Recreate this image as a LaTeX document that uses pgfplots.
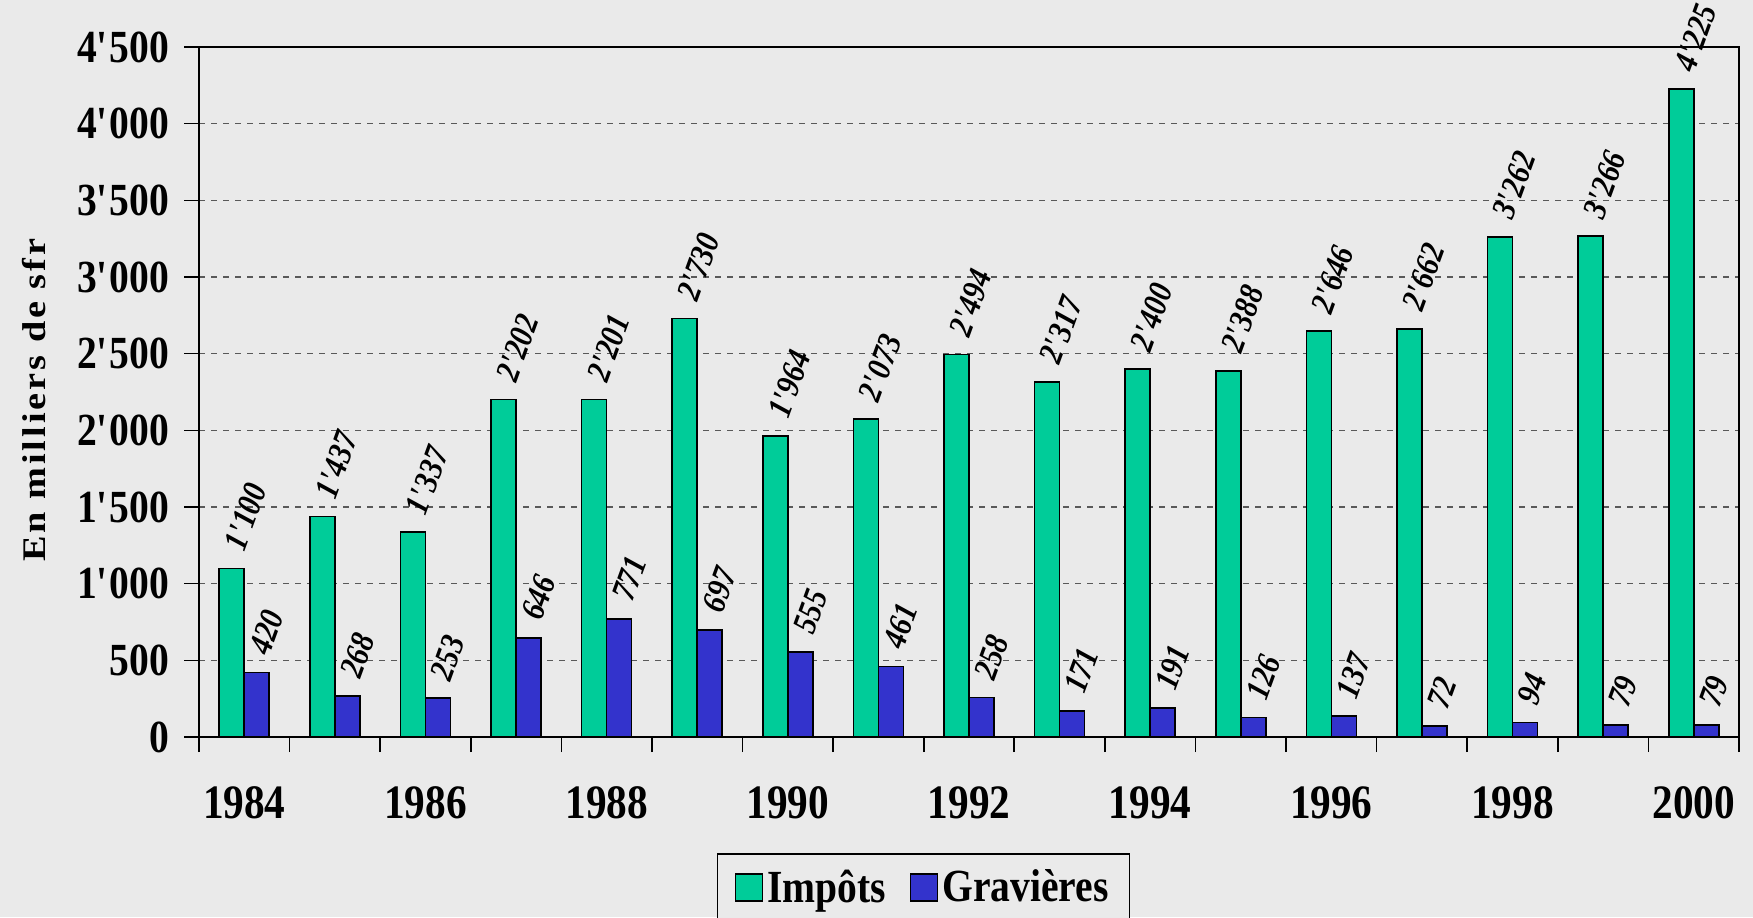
\documentclass[border=0pt]{standalone}
\usepackage{fontspec}
\setmainfont{Liberation Serif}[FakeStretch=0.86]
\newfontfamily\ylabfont{Liberation Serif}[FakeStretch=1.16, LetterSpace=9]
\usepackage{pgfplots}
\pgfplotsset{compat=1.18}
\definecolor{bg}{RGB}{234,234,234}
\definecolor{imp}{RGB}{0,204,153}
\definecolor{grav}{RGB}{51,51,204}
\pgfplotsset{sqlegend/.style={legend image code/.code={\draw[##1,line width=0.8pt] (0pt,-6.75pt) rectangle (13.5pt,6.75pt);}}}
\begin{document}
\begin{tikzpicture}
\useasboundingbox (0,0) rectangle (876.5pt,458.5pt);
\fill[bg] (0,0) rectangle (876.5pt,458.5pt);
\clip (0,0) rectangle (876.5pt,458.5pt);
\begin{axis}[
  at={(99.5pt,90pt)}, anchor=south west,
  scale only axis, width=770pt, height=345pt,
  ybar=0pt, bar width=12.5pt,
  xmin=-0.5, xmax=16.5, ymin=0, ymax=4500,
  clip=false,
  xtick={-0.5,0.5,...,16.5},
  xticklabels={},
  extra x ticks={0,2,...,16},
  extra x tick labels={1984,1986,1988,1990,1992,1994,1996,1998,2000},
  extra x tick style={major tick length=0pt},
  ytick={0,500,...,4500},
  yticklabels={0,500,1\textquotesingle000,1\textquotesingle500,2\textquotesingle000,2\textquotesingle500,3\textquotesingle000,3\textquotesingle500,4\textquotesingle000,4\textquotesingle500},
  xtick pos=bottom, ytick pos=left,
  tick align=outside,
  major tick length=7.5pt,
  tick style={black, line width=0.8pt},
  axis line style={line width=1pt},
  ymajorgrids,
  grid style={dashed, black!65, line width=0.6pt},
  xticklabel style={font=\bfseries\fontsize{24}{24}\selectfont, yshift=-21.5pt},
  yticklabel style={font=\bfseries\fontsize{23}{23}\selectfont, xshift=-4pt},
  ylabel={En milliers de sfr},
  every axis y label/.style={at={(axis description cs:-0.107,0.488)}, rotate=90, anchor=center, font=\ylabfont\bfseries\fontsize{16.5}{16.5}\selectfont},
  /pgf/number format/1000 sep={\textquotesingle},
  /pgf/number format/assume math mode=true,
  nodes near coords,
  every node near coord/.append style={xshift=6.3pt, yshift=7.6pt, rotate=70, anchor=base west, font=\bfseries\itshape\fontsize{17}{17}\selectfont, inner sep=0pt},
  legend style={at={(axis description cs:0.4705,-0.168)}, anchor=north, legend columns=2, draw=black, line width=0.8pt, fill=bg, font=\bfseries\fontsize{23}{23}\selectfont, /tikz/every even column/.append style={column sep=10pt}, inner xsep=8.5pt, inner ysep=6pt},
]
\addplot[fill=imp, draw=black, line width=0.8pt, sqlegend] coordinates {
(0,1100) (1,1437) (2,1337) (3,2202) (4,2201) (5,2730) (6,1964) (7,2073) (8,2494)
(9,2317) (10,2400) (11,2388) (12,2646) (13,2662) (14,3262) (15,3266) (16,4225)};
\addplot[fill=grav, draw=black, line width=0.8pt, sqlegend] coordinates {
(0,420) (1,268) (2,253) (3,646) (4,771) (5,697) (6,555) (7,461) (8,258)
(9,171) (10,191) (11,126) (12,137) (13,72) (14,94) (15,79) (16,79)};
\legend{Impôts,Gravières}
\end{axis}
\end{tikzpicture}
\end{document}
